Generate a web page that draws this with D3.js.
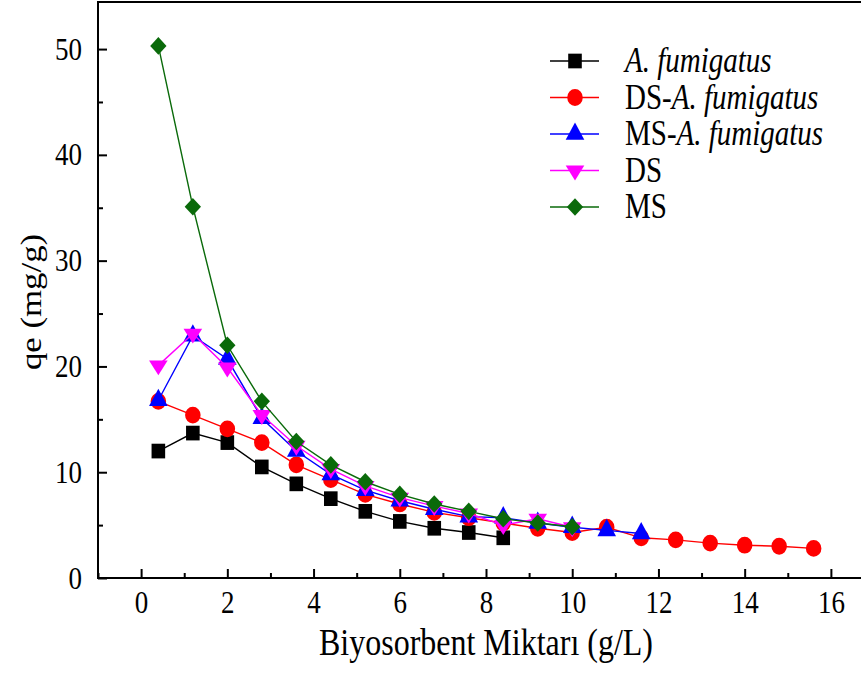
<!DOCTYPE html>
<html>
<head>
<meta charset="utf-8">
<script src="https://cdn.jsdelivr.net/npm/d3@7"></script>
<style>
  body { margin: 0; background: #fff; }
  svg { display: block; }
  text { font-family: "Liberation Serif", "Times New Roman", serif; fill: #000; }
</style>
</head>
<body>
<svg id="chart" width="861" height="677"></svg>
<script>
// Dose values (g/L) shared by every series
const doses = [0.4, 1.2, 2.0, 2.8, 3.6, 4.4, 5.2, 6.0, 6.8, 7.6, 8.4, 9.2, 10.0,
  10.8, 11.6, 12.4, 13.2, 14.0, 14.8, 15.6];

// qe values (mg/g)
const qeFumigatus = [12.0, 13.7, 12.8, 10.5, 8.9, 7.5, 6.3, 5.35, 4.7, 4.3, 3.8];
const qeDSFumigatus = [16.7, 15.4, 14.1, 12.8, 10.7, 9.3, 7.9, 7.0, 6.2, 5.7, 5.2,
  4.7, 4.3, 4.8, 3.8, 3.6, 3.3, 3.1, 3.0, 2.8];
const qeMSFumigatus = [16.8, 22.9, 20.7, 15.1, 12.0, 9.8, 8.3, 7.3, 6.5, 5.8, 5.7,
  5.2, 4.8, 4.5, 4.2];
const qeDS = [20.1, 23.1, 19.9, 15.4, 12.5, 10.3, 8.7, 7.6, 6.8, 6.1, 5.0, 5.6, 4.8];
const qeMS = [50.3, 35.1, 22.0, 16.7, 12.9, 10.7, 9.1, 7.9, 7.0, 6.3, 5.6, 5.2, 4.85];

const xTicks = [0, 2, 4, 6, 8, 10, 12, 14, 16];
const yTicks = [0, 10, 20, 30, 40, 50];

const series = [
  { name: "fum", values: qeFumigatus, color: "#000000", symbol: d3.symbolSquare, size: 185 },
  { name: "dsfum", values: qeDSFumigatus, color: "#ff0000", symbol: d3.symbolCircle, size: 190 },
  { name: "msfum", values: qeMSFumigatus, color: "#0000ff", symbol: d3.symbolTriangle, size: 150 },
  { name: "ds", values: qeDS, color: "#ff00ff", symbol: "down", size: 150 },
  { name: "ms", values: qeMS, color: "#0a6a0a", symbol: d3.symbolDiamond2, size: 170 },
];

// The original figure is a little stretched vertically - text and marks follow it
const STRETCH = 1.2;

const svg = d3.select("#chart");

// Plot frame - the right edge of the frame falls just outside the picture
const padLeft = 98, padTop = 2, padBottom = 578, padRight = 874;

const x = d3.scaleLinear().domain([-1, 17]).range([padLeft, padRight]);
const y = d3.scaleLinear().domain([0, 54.45]).range([padBottom, padTop]);

const symbolPath = (s) => {
  if (s.symbol === "down") {
    return d3.symbol(d3.symbolTriangle, s.size)();
  }
  return d3.symbol(s.symbol, s.size)();
};
const symbolTransform = (s) =>
  (s.symbol === "down" ? " rotate(180)" : "") + " scale(1," + (s.symbol === "down" ? 1 / 1.08 : 1.08) + ")";

const plot = svg.append("g");

series.forEach((s) => {
  const pts = s.values.map((v, i) => [doses[i], v]);
  plot.append("path")
    .datum(pts)
    .attr("fill", "none")
    .attr("stroke", s.color)
    .attr("stroke-width", 1.4)
    .attr("d", d3.line().x((d) => x(d[0])).y((d) => y(d[1])));

  plot.selectAll(".m-" + s.name)
    .data(pts)
    .enter()
    .append("path")
    .attr("class", "m-" + s.name)
    .attr("d", symbolPath(s))
    .attr("fill", s.color)
    .attr("transform", (d) =>
      "translate(" + x(d[0]) + "," + y(d[1]) + ")" + symbolTransform(s));
});

// Frame
svg.append("rect")
  .attr("x", padLeft).attr("y", padTop)
  .attr("width", padRight - padLeft).attr("height", padBottom - padTop)
  .attr("fill", "none").attr("stroke", "#000").attr("stroke-width", 2);

// Axes with inward ticks
const xAxis = svg.append("g")
  .attr("transform", "translate(0," + padBottom + ")")
  .call(d3.axisBottom(x).tickValues(xTicks).tickSize(-9));
const xMinor = svg.append("g")
  .attr("transform", "translate(0," + padBottom + ")")
  .call(d3.axisBottom(x).tickValues(d3.range(-1, 17, 2)).tickSize(-5).tickFormat(""));

const yAxis = svg.append("g")
  .attr("transform", "translate(" + padLeft + ",0)")
  .call(d3.axisLeft(y).tickValues(yTicks).tickSize(-9));
const yMinor = svg.append("g")
  .attr("transform", "translate(" + padLeft + ",0)")
  .call(d3.axisLeft(y).tickValues([5, 15, 25, 35, 45]).tickSize(-5).tickFormat(""));

[xAxis, xMinor, yAxis, yMinor].forEach((g) => {
  g.attr("font-family", null).attr("font-size", null);
  g.select(".domain").remove();
  g.selectAll("line").attr("stroke", "#000").attr("stroke-width", 2);
});

xAxis.selectAll("text")
  .attr("y", 0).attr("dy", null)
  .attr("transform", "translate(0,35) scale(1," + STRETCH + ")")
  .style("font-size", "27px");

yAxis.selectAll("text")
  .attr("x", 0).attr("dy", null)
  .attr("transform", "translate(-16,10) scale(1," + STRETCH + ")")
  .style("font-size", "27px");

// Axis titles
svg.append("text")
  .attr("text-anchor", "middle")
  .attr("transform", "translate(486,655) scale(1," + STRETCH + ")")
  .style("font-size", "32px")
  .text("Biyosorbent Miktarı (g/L)");

svg.append("text")
  .attr("text-anchor", "middle")
  .attr("transform", "translate(41,302) rotate(-90) scale(" + STRETCH + ",1)")
  .style("font-size", "29px")
  .text("qe (mg/g)");

// Legend
const legend = svg.append("g").attr("transform", "translate(550,61)");
const legendLabels = [
  [["A. fumigatus", true]],
  [["DS-", false], ["A. fumigatus", true]],
  [["MS-", false], ["A. fumigatus", true]],
  [["DS", false]],
  [["MS", false]],
];

series.forEach((s, i) => {
  const row = legend.append("g").attr("transform", "translate(0," + i * 36.5 + ")");
  row.append("line")
    .attr("x1", 0).attr("x2", 49)
    .attr("stroke", s.color).attr("stroke-width", 1.4);
  row.append("path")
    .attr("d", symbolPath(s))
    .attr("fill", s.color)
    .attr("transform", "translate(25,0)" + symbolTransform(s));
  const t = row.append("text")
    .attr("transform", "translate(75,11) scale(1," + STRETCH + ")")
    .style("font-size", "29px");
  legendLabels[i].forEach(([str, it]) => {
    t.append("tspan").style("font-style", it ? "italic" : "normal").text(str);
  });
});
</script>
</body>
</html>
